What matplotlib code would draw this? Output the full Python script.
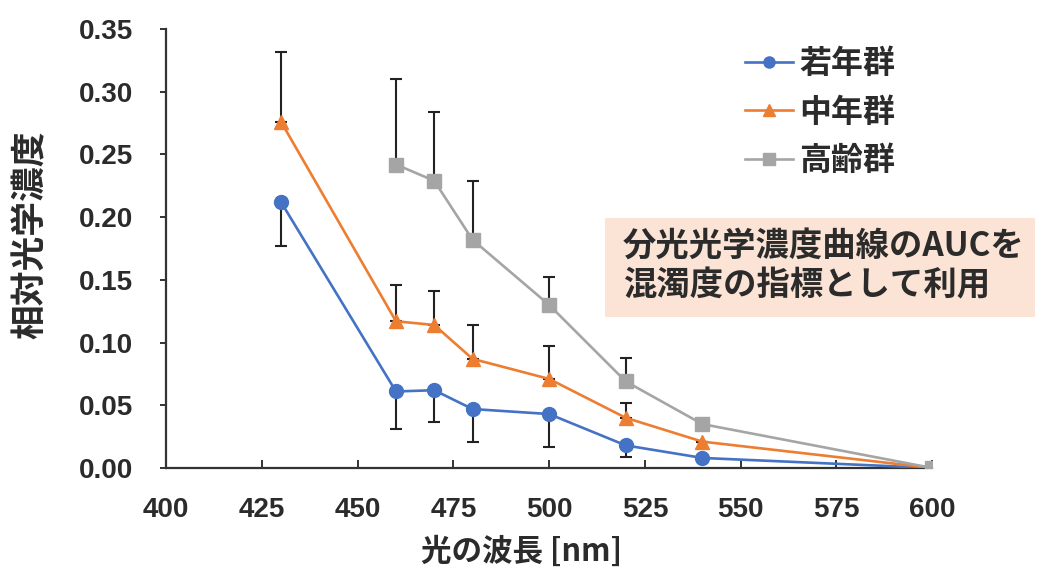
import matplotlib
matplotlib.use("Agg")
import matplotlib.pyplot as plt
from matplotlib.patches import Rectangle

plt.rcParams['font.family'] = ['Noto Sans CJK JP', 'DejaVu Sans']

# data
wl_young = [430, 460, 470, 480, 500, 520, 540, 600]
young = [0.212, 0.061, 0.062, 0.047, 0.043, 0.018, 0.008, 0.0]
young_err = [0.035, 0.030, 0.025, 0.026, 0.026, 0.009, 0.0, 0.0]  # drawn downward

wl_mid = [430, 460, 470, 480, 500, 520, 540, 600]
mid = [0.276, 0.117, 0.114, 0.087, 0.071, 0.040, 0.021, 0.0]
mid_err = [0.056, 0.029, 0.027, 0.027, 0.026, 0.012, 0.0, 0.0]  # drawn upward

wl_old = [460, 470, 480, 500, 520, 540, 600]
old = [0.242, 0.229, 0.182, 0.130, 0.069, 0.035, 0.0]
old_err = [0.068, 0.055, 0.047, 0.022, 0.019, 0.0, 0.0]  # drawn upward

labels = ['若年群', '中年群', '高齢群']
colors = ['#4472C4', '#ED7D31', '#A5A5A5']
text_col = '#2b2b2b'
num_font = ['Liberation Sans', 'Noto Sans CJK JP']

fig = plt.figure(figsize=(10.45, 5.7), dpi=100)
ax = fig.add_axes([0.159, 0.179, 0.733, 0.770])

common = dict(markersize=10, lw=1.9, ecolor='#222222', elinewidth=1.5,
              capsize=4.5, capthick=1.5, zorder=3)
c1 = ax.errorbar(wl_young, young, yerr=[young_err, [0] * len(young)],
                 color=colors[0], marker='o', **common)
c2 = ax.errorbar(wl_mid, mid, yerr=[[0] * len(mid), mid_err],
                 color=colors[1], marker='^', **common)
c3 = ax.errorbar(wl_old, old, yerr=[[0] * len(old), old_err],
                 color=colors[2], marker='s', **common)
for c in (c1, c2, c3):
    c.lines[0].set_zorder(4)

ax.set_xlim(400, 600)
ax.set_ylim(0, 0.35)
ax.set_xticks(range(400, 601, 25))
ax.set_yticks([i * 0.05 for i in range(8)])
ax.yaxis.set_major_formatter(matplotlib.ticker.FormatStrFormatter('%.2f'))
for s in ['top', 'right']:
    ax.spines[s].set_visible(False)
for s in ['left', 'bottom']:
    ax.spines[s].set_color('#333333')
    ax.spines[s].set_linewidth(1.6)
ax.tick_params(colors='#333333', labelcolor=text_col, labelsize=20, width=1.4)
ax.tick_params(axis='x', direction='in', length=6, pad=21)
ax.tick_params(axis='y', direction='out', length=4, pad=20)
for t in ax.get_xticklabels() + ax.get_yticklabels():
    t.set_family(num_font)
    t.set_fontweight('bold')

fig.text(0.4995, 0.032, '光の波長 [nm]', fontsize=22, fontweight='bold',
         color=text_col, ha='center', va='center')
fig.text(0.029, 0.588, '相対光学濃度', fontsize=25, fontweight='bold',
         color=text_col, ha='center', va='center', rotation=90)

handles = [c.lines[0] for c in (c1, c2, c3)]
leg = fig.legend(handles, labels, loc='upper left', bbox_to_anchor=(0.713, 0.916),
                 frameon=False, fontsize=23, handlelength=1.5, labelspacing=0.52,
                 handletextpad=0.2, borderpad=0, borderaxespad=0, markerscale=0.8)
for t in leg.get_texts():
    t.set_fontweight('bold')
    t.set_color(text_col)

fig.patches.append(Rectangle((0.579, 0.444), 0.411, 0.174, transform=fig.transFigure,
                             facecolor='#FBE4D5', edgecolor='none', zorder=0))
fig.text(0.596, 0.533, '分光光学濃度曲線のAUCを\n混濁度の指標として利用', fontsize=24,
         fontweight='bold', color=text_col, ha='left', va='center', linespacing=1.28)

fig.savefig('out.png', dpi=100, facecolor='white')
